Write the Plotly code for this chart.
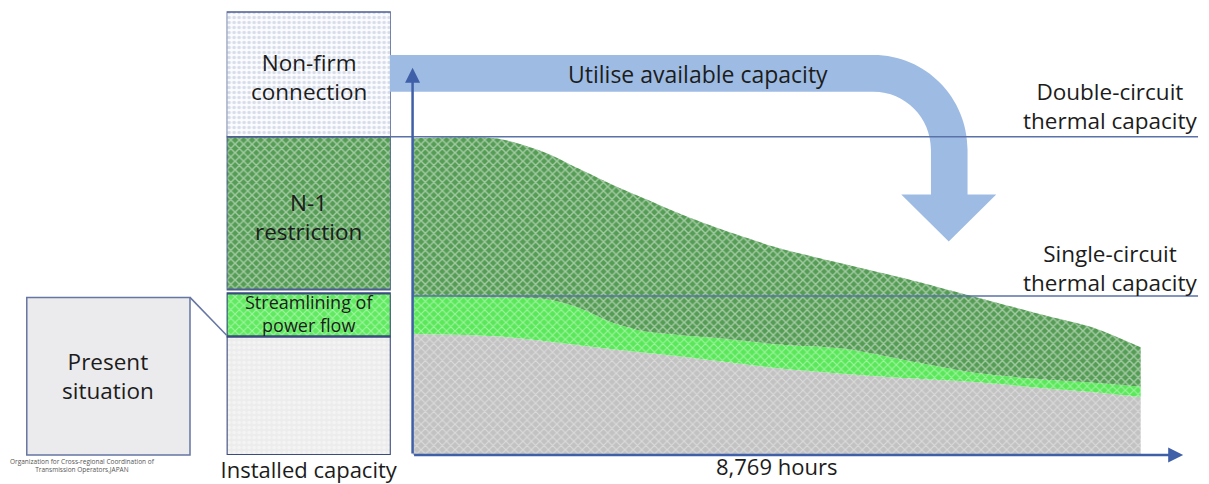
import plotly.graph_objects as go

# Load-duration curves of the line over one year (MW), hours sorted by descending flow
hours = [0, 1000, 1600, 2000, 2400, 2800, 3200, 3600, 4400, 5200, 6000, 6800, 7600, 8200, 8769]
flow_present = [760, 746, 715, 690, 665, 642, 620, 595, 545, 510, 482, 457, 420, 395, 365]
flow_streamlined = [1000, 990, 980, 925, 833, 776, 755, 738, 695, 668, 590, 515, 475, 455, 430]
flow_n1_relaxed = [1990, 1990, 1900, 1800, 1700, 1610, 1520, 1440, 1302, 1200, 1100, 990, 880, 800, 677]

single_circuit_mw = 1000
double_circuit_mw = 2000

# Installed-capacity column (MW)
cap_labels = ["Present situation", "Streamlining of power flow", "N-1 restriction", "Non-firm connection"]
cap_base = [0, 746, 1040, 2000]
cap_top = [746, 1016, 2000, 2784]

W, H = 1209, 484
FONT = "Open Sans, Noto Sans, Liberation Sans, sans-serif"
TXT = "#1c1c1c"
EDGE = "#4d5f91"
AXIS = "#3f5fa8"


def fx(x):
    return x / W


def fy(y):
    return 1 - y / H


def pt(x, y):
    return f"{fx(x):.5f},{fy(y):.5f}"


fig = go.Figure()

# Stacked duration areas
area_styles = [
    ("Present situation", flow_present, "tozeroy", "#c2c2c2", "#f4f4f4", 0.32),
    ("Streamlining of power flow", flow_streamlined, "tonexty", "#5ae85a", "#e2fde2", 0.35),
    ("N-1 restriction", flow_n1_relaxed, "tonexty", "#559c55", "#f2f8f2", 0.42),
]
for name, ys, fill, bg, fg, sol in area_styles:
    fig.add_trace(go.Scatter(
        x=hours, y=ys, name=name, mode="lines", fill=fill,
        line=dict(color="rgba(0,0,0,0)", width=0, shape="spline", smoothing=0.8),
        fillcolor=bg,
        fillpattern=dict(shape="x", bgcolor=bg, fgcolor=fg, size=6, solidity=sol),
        xaxis="x", yaxis="y", hoverinfo="skip", showlegend=False,
    ))

# Installed-capacity column as stacked segments
bar_styles = [
    dict(bg="#ececec", fg="#fbfbfb", shape=".", size=5, sol=0.4, lc="#3a4b7e", lw=2.2),
    dict(bg="#5fea5f", fg="#e2fde2", shape="x", size=6, sol=0.35, lc="#3a4b7e", lw=2.2),
    dict(bg="#559c55", fg="#f2f8f2", shape="x", size=6, sol=0.42, lc=EDGE, lw=1.8),
    dict(bg="#fbfcff", fg="#b3bdd2", shape=".", size=5, sol=0.4, lc=EDGE, lw=1.5),
]
for label, b, t, st in zip(cap_labels, cap_base, cap_top, bar_styles):
    fig.add_trace(go.Bar(
        x=["Installed capacity"], y=[t - b], base=[b], width=1, name=label,
        marker=dict(color=st["bg"],
                    pattern=dict(shape=st["shape"], bgcolor=st["bg"], fgcolor=st["fg"],
                                 size=st["size"], solidity=st["sol"]),
                    line=dict(color=st["lc"], width=st["lw"])),
        xaxis="x2", yaxis="y", hoverinfo="skip", showlegend=False,
    ))

shapes = []

# Curved "utilise" arrow
k = 0.5523
R, r, cx, cy = 95, 58, 877, 150
arrow_path = (
    f"M {pt(388, 55)} L {pt(cx, 55)} "
    f"C {pt(cx + k * R, 55)} {pt(cx + R, cy - k * R)} {pt(cx + R, cy)} "
    f"L {pt(cx + R, 195)} L {pt(1001, 195)} L {pt(953, 242)} L {pt(905, 195)} "
    f"L {pt(cx + r, 195)} L {pt(cx + r, cy)} "
    f"C {pt(cx + r, cy - k * r)} {pt(cx + k * r, 92)} {pt(cx, 92)} "
    f"L {pt(388, 92)} Z"
)
shapes.append(dict(type="path", xref="paper", yref="paper", path=arrow_path,
                   fillcolor="#9ebce3", line=dict(width=0), layer="above"))

# Thermal capacity limits
shapes.append(dict(type="line", xref="paper", yref="y", x0=fx(389), x1=fx(1205),
                   y0=double_circuit_mw, y1=double_circuit_mw,
                   line=dict(color="#5a72a8", width=1.5)))
shapes.append(dict(type="line", xref="paper", yref="y", x0=fx(411), x1=fx(1205),
                   y0=single_circuit_mw, y1=single_circuit_mw,
                   line=dict(color="#5a72a8", width=1.5)))

# Callout box for the present situation
shapes.append(dict(type="rect", xref="paper", yref="paper",
                   x0=fx(21), x1=fx(186), y0=fy(456), y1=fy(298),
                   fillcolor="#ebebed", line=dict(color="#6676a2", width=1.5)))
shapes.append(dict(type="line", xref="paper", yref="paper",
                   x0=fx(186), y0=fy(298), x1=fx(223), y1=fy(336),
                   line=dict(color="#6676a2", width=1.5)))

annotations = []


def label(text, x, y, xref, yref, size, dy=0, color=TXT):
    annotations.append(dict(
        text=text, x=x, y=y, xref=xref, yref=yref, showarrow=False,
        xanchor="center", yanchor="middle", yshift=dy,
        font=dict(family=FONT, size=size, color=color),
    ))


# Axis arrows
x_end = 9281
annotations.append(dict(x=0, y=2433, ax=0, ay=0, xref="x", yref="y", axref="x", ayref="y",
                        text="", showarrow=True, arrowhead=2, arrowsize=1.2,
                        arrowwidth=2.5, arrowcolor=AXIS))
annotations.append(dict(x=x_end, y=0, ax=0, ay=0, xref="x", yref="y", axref="x", ayref="y",
                        text="", showarrow=True, arrowhead=2, arrowsize=1.2,
                        arrowwidth=2.5, arrowcolor=AXIS))

# Column segment labels
mid = [(b + t) / 2 for b, t in zip(cap_base, cap_top)]
label("Non-firm<br>connection", 0.5, mid[3], "x2 domain", "y", 22.5, dy=-3)
label("N-1<br>restriction", 0.5, mid[2], "x2 domain", "y", 22.5, dy=-4)
label("Streamlining of<br>power flow", 0.5, mid[1], "x2 domain", "y", 18, dy=1)
label("Present<br>situation", fx(103), fy(377), "paper", "paper", 22.5)

# Limit labels
label("Double-circuit<br>thermal capacity", fx(1116), double_circuit_mw, "paper", "y", 22.5, dy=31)
label("Single-circuit<br>thermal capacity", fx(1116), single_circuit_mw, "paper", "y", 22.5, dy=28)

label("Utilise available capacity", fx(700), fy(74), "paper", "paper", 23)

# Duration label under the time axis
annotations.append(dict(text=f"{hours[-1]:,} hours", x=hours[-1] / 2, y=0, xref="x", yref="paper",
                        showarrow=False, xanchor="center", yanchor="bottom",
                        font=dict(family=FONT, size=22, color=TXT)))

label("Organization for Cross-regional Coordination of<br>Transmission Operators,JAPAN",
      fx(77), fy(466), "paper", "paper", 6.5, color="#555555")

fig.update_layout(
    width=W, height=H,
    margin=dict(l=0, r=0, t=0, b=0),
    paper_bgcolor="white", plot_bgcolor="rgba(0,0,0,0)",
    showlegend=False, barmode="overlay",
    font=dict(family=FONT, color=TXT),
    xaxis=dict(domain=[fx(411), fx(1190)], range=[0, x_end], visible=False, anchor="y"),
    xaxis2=dict(domain=[fx(223), fx(389)], range=[-0.5, 0.5], type="category", anchor="y",
                showgrid=False, zeroline=False, showline=False, ticks="",
                tickfont=dict(family=FONT, size=22, color=TXT)),
    yaxis=dict(domain=[28 / H, 1], range=[0, 2859], visible=False),
    shapes=shapes,
    annotations=annotations,
)

fig.write_html("out.html")
